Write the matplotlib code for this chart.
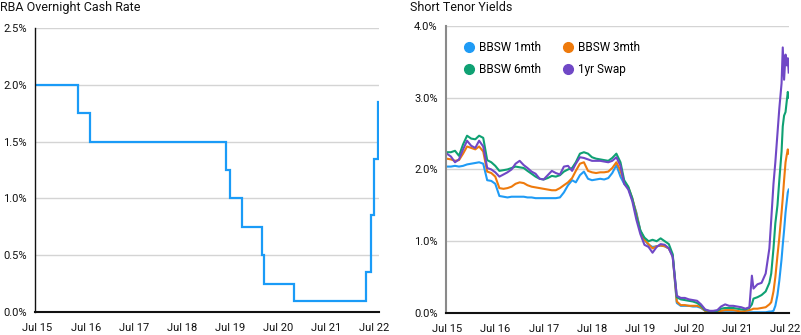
import numpy as np
import pandas as pd
import matplotlib
matplotlib.use("Agg")
import matplotlib.pyplot as plt
from matplotlib.lines import Line2D
from matplotlib.ticker import FuncFormatter

plt.rcParams['font.family'] = ['Roboto', 'DejaVu Sans']

# ---- RBA cash rate target (change dates) ----
cash_dates = ["2015-06-12", "2016-05-04", "2016-08-03", "2019-06-05", "2019-07-03",
              "2019-10-02", "2020-03-04", "2020-03-20", "2020-11-04", "2022-05-04",
              "2022-06-08", "2022-07-06", "2022-08-03", "2022-08-10"]
cash_rate = [2.00, 1.75, 1.50, 1.25, 1.00, 0.75, 0.50, 0.25, 0.10, 0.35, 0.85, 1.35, 1.85, 1.85]

# ---- short tenor yields ----
yield_dates = list(pd.date_range("2015-07-01", "2021-09-01", freq="MS").strftime("%Y-%m-%d")) + [
    "2021-10-01", "2021-10-20", "2021-11-01", "2021-12-01", "2022-01-01", "2022-02-01",
    "2022-03-01", "2022-03-15", "2022-04-01", "2022-04-15", "2022-05-01", "2022-05-15",
    "2022-06-01", "2022-06-10", "2022-06-20", "2022-07-01", "2022-07-10", "2022-07-18",
    "2022-07-25"]

bbsw_1m = [2.04, 2.04, 2.05, 2.04, 2.05, 2.07, 2.08, 2.09, 2.10, 2.08,
           1.85, 1.84, 1.80, 1.63, 1.62, 1.61, 1.62, 1.62, 1.62, 1.62,
           1.61, 1.61, 1.60, 1.60, 1.60, 1.60, 1.60, 1.60, 1.61, 1.68,
           1.78, 1.85, 1.82, 1.92, 1.97, 1.87, 1.85, 1.86, 1.87, 1.86,
           1.88, 1.95, 2.06, 1.90, 1.80, 1.74, 1.58, 1.40, 1.15, 1.02,
           0.95, 0.92, 0.93, 0.94, 0.93, 0.90, 0.80, 0.14, 0.10, 0.10,
           0.10, 0.09, 0.09, 0.07, 0.03, 0.01, 0.01, 0.01, 0.01, 0.01,
           0.01, 0.01, 0.01, 0.01, 0.01,
           0.01, 0.01, 0.01, 0.01, 0.01, 0.01, 0.02, 0.02, 0.03, 0.10,
           0.25, 0.45, 0.75, 0.95, 1.15, 1.40, 1.55, 1.68, 1.72]
bbsw_3m = [2.15, 2.14, 2.12, 2.13, 2.22, 2.32, 2.30, 2.28, 2.32, 2.25,
           1.97, 1.95, 1.90, 1.74, 1.73, 1.74, 1.76, 1.80, 1.82, 1.81,
           1.78, 1.76, 1.75, 1.74, 1.73, 1.72, 1.71, 1.71, 1.74, 1.78,
           1.82, 1.88, 1.98, 2.08, 2.10, 1.98, 1.96, 1.95, 1.96, 1.96,
           1.97, 2.02, 2.10, 1.98, 1.83, 1.75, 1.60, 1.38, 1.14, 1.02,
           0.96, 0.90, 0.93, 0.94, 0.93, 0.90, 0.80, 0.16, 0.11, 0.11,
           0.10, 0.10, 0.10, 0.08, 0.03, 0.02, 0.02, 0.02, 0.03, 0.04,
           0.04, 0.04, 0.03, 0.02, 0.03,
           0.04, 0.05, 0.06, 0.06, 0.07, 0.08, 0.12, 0.15, 0.30, 0.50,
           0.80, 1.05, 1.40, 1.60, 1.85, 2.10, 2.20, 2.28, 2.22]
bbsw_6m = [2.24, 2.24, 2.26, 2.19, 2.35, 2.47, 2.43, 2.42, 2.47, 2.44,
           2.13, 2.10, 2.05, 1.98, 1.99, 2.00, 2.02, 2.04, 2.03, 2.02,
           1.98, 1.94, 1.90, 1.87, 1.86, 1.88, 1.91, 1.90, 1.92, 1.97,
           2.00, 2.02, 2.10, 2.22, 2.24, 2.22, 2.17, 2.15, 2.14, 2.13,
           2.12, 2.16, 2.22, 2.10, 1.85, 1.76, 1.60, 1.35, 1.15, 1.05,
           1.00, 1.02, 1.00, 1.04, 1.00, 0.96, 0.82, 0.22, 0.19, 0.18,
           0.17, 0.16, 0.14, 0.10, 0.04, 0.03, 0.02, 0.03, 0.06, 0.07,
           0.07, 0.07, 0.06, 0.05, 0.05,
           0.07, 0.12, 0.20, 0.22, 0.25, 0.30, 0.42, 0.55, 0.90, 1.25,
           1.50, 1.85, 2.25, 2.60, 2.75, 2.80, 2.95, 3.08, 3.00]
swap_1y = [2.22, 2.18, 2.10, 2.14, 2.28, 2.40, 2.33, 2.30, 2.40, 2.32,
           2.02, 2.00, 1.96, 1.90, 1.93, 1.96, 2.00, 2.08, 2.12, 2.06,
           2.02, 1.97, 1.94, 1.87, 1.86, 1.92, 1.98, 1.95, 1.93, 2.04,
           2.05, 1.98, 2.08, 2.17, 2.16, 2.14, 2.12, 2.12, 2.12, 2.11,
           2.10, 2.12, 2.17, 2.05, 1.80, 1.72, 1.56, 1.30, 1.10, 0.95,
           0.92, 0.84, 0.92, 0.96, 0.95, 0.90, 0.78, 0.24, 0.21, 0.21,
           0.19, 0.18, 0.17, 0.12, 0.05, 0.03, 0.03, 0.04, 0.09, 0.12,
           0.10, 0.10, 0.09, 0.08, 0.06,
           0.08, 0.52, 0.34, 0.40, 0.42, 0.55, 0.90, 1.30, 1.80, 2.10,
           2.50, 2.85, 3.20, 3.70, 3.25, 3.60, 3.45, 3.55, 3.35]

labels = ["BBSW 1mth", "BBSW 3mth", "BBSW 6mth", "1yr Swap"]
colors = ["#1f9bf5", "#ee7a0c", "#0fa173", "#7048c6"]

tick_years = list(range(2015, 2023))
tick_labels = ["Jul %02d" % (y % 100) for y in tick_years]
tick_pos = pd.to_datetime(["%d-07-01" % y for y in tick_years])

fig = plt.figure(figsize=(8.01, 3.35), dpi=100)
ax1 = fig.add_axes([0.0437, 0.0687, 0.4295, 0.848])
ax2 = fig.add_axes([0.5568, 0.0657, 0.4282, 0.857])

pct = FuncFormatter(lambda v, p: "%.1f%%" % v)

for ax in (ax1, ax2):
    for s in ("top", "right"):
        ax.spines[s].set_visible(False)
    ax.spines["bottom"].set_color("#111111")
    ax.spines["bottom"].set_linewidth(1.5)
    ax.grid(axis="y", color="#d4d4d4", lw=1.0)
    ax.set_axisbelow(True)
    ax.tick_params(length=0, labelsize=8, colors="#111111")
    ax.tick_params(axis="y", pad=6)
    ax.tick_params(axis="x", pad=8)
    ax.set_xticks(tick_pos)
    ax.set_xticklabels(tick_labels)
    ax.yaxis.set_major_formatter(pct)

# cash rate
ax1.plot(pd.to_datetime(cash_dates), cash_rate, drawstyle="steps-post",
         color="#1a9bf7", lw=1.6, solid_joinstyle="miter")
ax1.set_ylim(0, 2.5)
ax1.set_yticks(np.arange(0, 2.51, 0.5))
ax1.set_xlim(pd.Timestamp("2015-06-12"), pd.Timestamp("2022-08-10"))
ax1.spines["left"].set_color("#111111")
ax1.spines["left"].set_linewidth(1.0)
fig.text(0.0, 0.977, "RBA Overnight Cash Rate", fontsize=9, va="center", ha="left",
         color="#111111")

# yields
yd = pd.to_datetime(yield_dates)
for vals, c in zip([bbsw_1m, bbsw_3m, bbsw_6m, swap_1y], colors):
    ax2.plot(yd, vals, color=c, lw=1.5)
ax2.set_ylim(0, 4.0)
ax2.set_yticks(np.arange(0, 4.01, 1.0))
ax2.set_xlim(pd.Timestamp("2015-06-25"), pd.Timestamp("2022-07-27"))
ax2.spines["left"].set_color("#8a8a8a")
ax2.spines["left"].set_linewidth(1.5)
fig.text(0.512, 0.977, "Short Tenor Yields", fontsize=9, va="center", ha="left",
         color="#111111")

# legend laid out row by row: 1mth, 3mth / 6mth, swap
order = [0, 2, 1, 3]
handles = [Line2D([], [], ls="none", marker="o", ms=7, color=colors[i]) for i in order]
ax2.legend(handles, [labels[i] for i in order], ncol=2, frameon=False, loc="upper left",
           bbox_to_anchor=(0.01, 0.985), fontsize=8.5, handletextpad=0.1,
           columnspacing=1.5, labelspacing=0.8, handlelength=1.5)

fig.savefig("out.png", dpi=100)
